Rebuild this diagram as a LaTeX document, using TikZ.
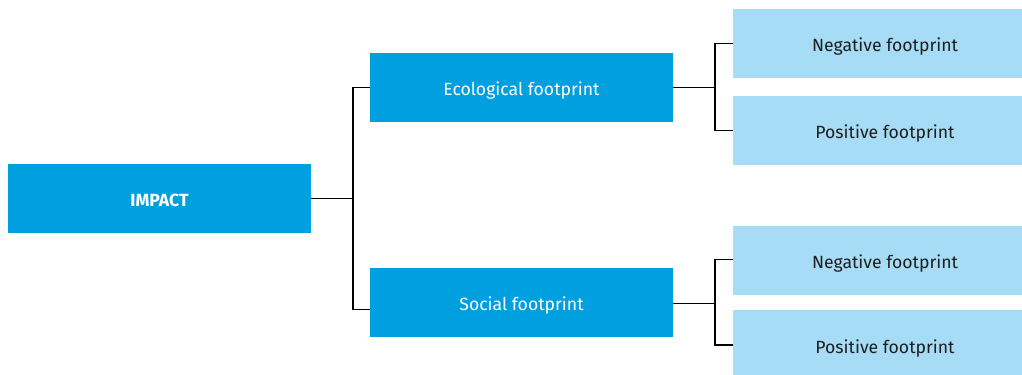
\documentclass[tikz,border=0pt]{standalone}
\usepackage{fontspec}
\setmainfont{Fira Sans}
\definecolor{darkbox}{HTML}{009FDF}
\definecolor{lightbox}{HTML}{A6DCF5}
\definecolor{darktext}{HTML}{1E1E1E}
\begin{document}
\begin{tikzpicture}[x=1bp,y=-1bp,
  boxbase/.style={draw=none,inner sep=0pt,text height=16.2bp,text depth=0pt,font=\fontsize{17.7}{21}\selectfont},
  dbox/.style={boxbase,fill=darkbox,minimum width=303bp,minimum height=68.5bp,text=white},
  lbox/.style={boxbase,fill=lightbox,minimum width=304bp,minimum height=68.7bp,text=darktext},
  conn/.style={draw=black,line width=1.3bp}]
\useasboundingbox (0,0) rectangle (1022,374);
\clip (0,0) rectangle (1022,374);
\fill[white] (0,0) rectangle (1022,374);
\node[dbox,font=\fontsize{17.7}{21}\selectfont\bfseries] (impact) at (159.5,198.3) {IMPACT};
\node[dbox] (eco) at (521.5,87.5) {Ecological footprint};
\node[dbox] (soc) at (521.5,302.3) {Social footprint};
\node[lbox] (n1) at (885,43.4) {Negative footprint};
\node[lbox] (p1) at (885,130.3) {Positive footprint};
\node[lbox] (n2) at (885,260.3) {Negative footprint};
\node[lbox,minimum height=70bp] (p2) at (885,345) {Positive footprint};
\coordinate (j1) at (353,198.3);
\coordinate (j2) at (715,87.5);
\coordinate (j3) at (715,303.5);
\draw[conn] (impact.east) -- (j1);
\draw[conn] (j1) |- (eco.west);
\draw[conn] (j1) |- ([yshift=-7bp]soc.west);
\draw[conn] (eco.east) -- (j2);
\draw[conn] (j2) |- (n1.west);
\draw[conn] (j2) |- (p1.west);
\draw[conn] ([yshift=-1.2bp]soc.east) -- (j3);
\draw[conn] (j3) |- ([yshift=1bp]n2.west);
\draw[conn] (j3) |- (p2.west);
\end{tikzpicture}
\end{document}
